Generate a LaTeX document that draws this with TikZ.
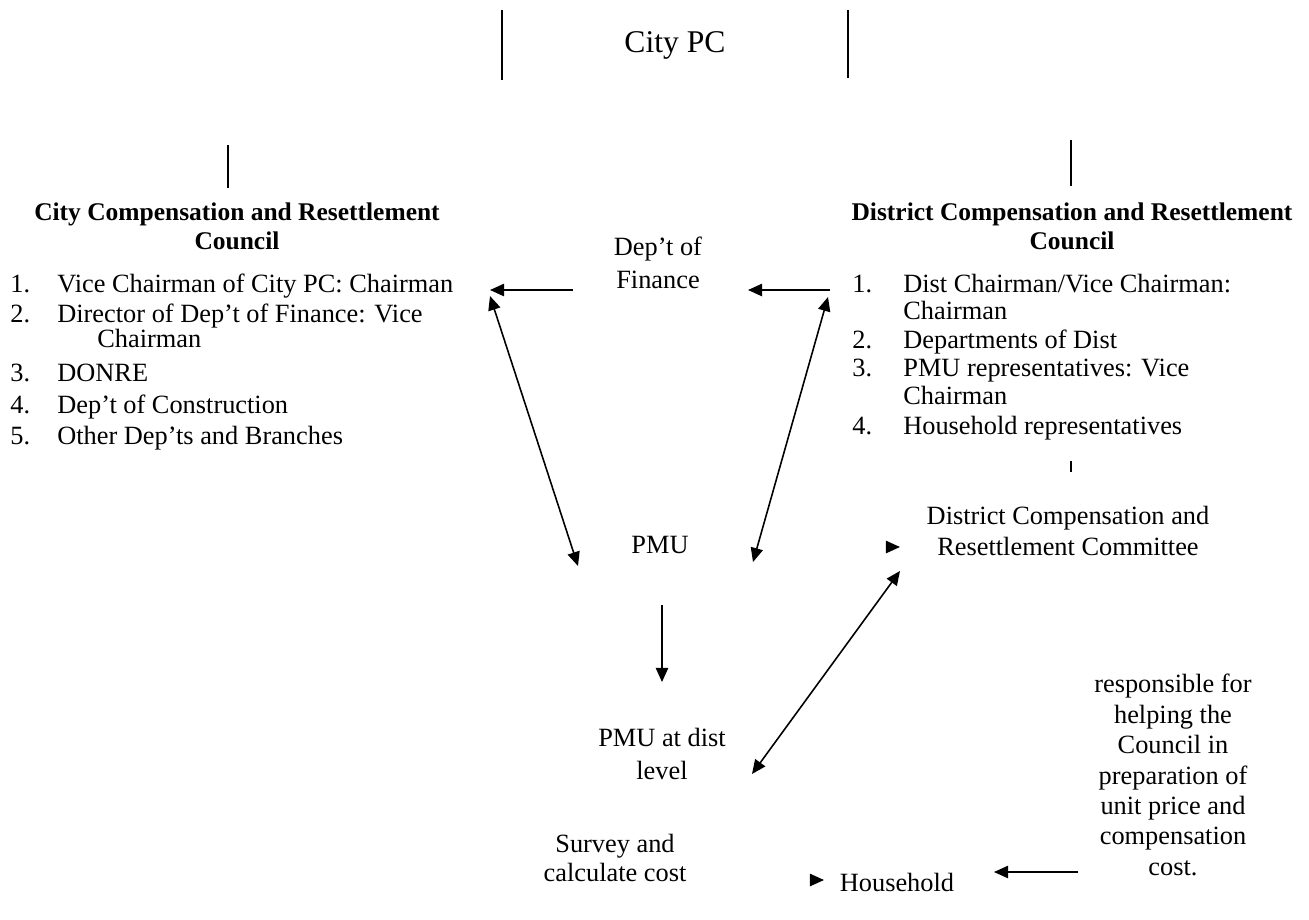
\documentclass[tikz,border=0pt]{standalone}
\usepackage{fontspec}
\setmainfont{Liberation Serif}
\usetikzlibrary{arrows.meta}

\tikzset{
  lbl/.style={font={\fontsize{15}{18.7}\selectfont}, inner sep=0pt, align=center},
  ttl/.style={font={\fontsize{14.5}{16.5}\selectfont\bfseries}, inner sep=0pt, align=center},
  itm/.style={font={\fontsize{15}{18}\selectfont}, inner sep=0pt, anchor=base west},
  bar/.style={line width=0.9pt},
  arr/.style={line width=0.9pt, -{Triangle[length=8pt,width=7pt]}},
  darr/.style={line width=0.9pt, {Triangle[length=8pt,width=7pt]}-{Triangle[length=8pt,width=7pt]}},
}

\begin{document}
\begin{tikzpicture}[x=0.02cm, y=-0.02cm]
    \useasboundingbox (0,0) rectangle (1309,920);

        % City PC with its two bars
        \node[lbl, font={\fontsize{18}{20}\selectfont}] (citypc) at (675,45) {City PC};
        \draw[bar] (502,10) -- (502,80);
        \draw[bar] (848,10) -- (848,78);

        % Bars above the councils
        \draw[bar] (228,145) -- (228,188);
        \draw[bar] (1071,140) -- (1071,186);

        % City council
        \node[ttl] (citytitle) at (237,226) {City Compensation and Resettlement\\Council};
        \node[itm] (c1n) at (10,292) {1.};
        \node[itm] (c1) at (57,292) {Vice Chairman of City PC: Chairman};
        \node[itm] (c2n) at (10,322) {2.};
        \node[itm] (c2) at (57,322) {Director of Dep't of Finance: Vice};
        \node[itm] (c2b) at (97,347) {Chairman};
        \node[itm] (c3n) at (10,381) {3.};
        \node[itm] (c3) at (57,381) {DONRE};
        \node[itm] (c4n) at (10,413) {4.};
        \node[itm] (c4) at (57,413) {Dep't of Construction};
        \node[itm] (c5n) at (10,444) {5.};
        \node[itm] (c5) at (57,444) {Other Dep'ts and Branches};

        % District council
        \node[ttl] (disttitle) at (1072,226) {District Compensation and Resettlement\\Council};
        \node[itm] (d1n) at (852,292) {1.};
        \node[itm] (d1) at (903,292) {Dist Chairman/Vice Chairman:};
        \node[itm] (d1b) at (903,319) {Chairman};
        \node[itm] (d2n) at (852,348) {2.};
        \node[itm] (d2) at (903,348) {Departments of Dist};
        \node[itm] (d3n) at (852,376) {3.};
        \node[itm] (d3) at (903,376) {PMU representatives: Vice};
        \node[itm] (d3b) at (903,404) {Chairman};
        \node[itm] (d4n) at (852,434) {4.};
        \node[itm] (d4) at (903,434) {Household representatives};
        \draw[bar] (1071,461) -- (1071,472);

        % Middle column
        \node[lbl] (fin) at (658,263) {Dep't of\\Finance};
        \node[lbl] (pmu) at (660,545) {PMU};
        \node[lbl] (pmudist) at (662,754) {PMU at dist\\level};
        \node[lbl, font={\fontsize{15}{17}\selectfont}] (survey) at (615,858) {Survey and\\calculate cost};

        % Right column
        \node[lbl, font={\fontsize{15}{17.6}\selectfont}] (committee) at (1068,531) {District Compensation and\\Resettlement Committee};
        \node[lbl, font={\fontsize{15}{17.3}\selectfont}] (resp) at (1173,775) {responsible for\\helping the\\Council in\\preparation of\\unit price and\\compensation\\cost.};
        \node[lbl] (household) at (897,882) {Household};

        % Arrow end points
        \coordinate (finL) at (573,290);
        \coordinate (cityR) at (490,290);
        \coordinate (distL) at (830,290);
        \coordinate (finR) at (748,290);
        \coordinate (cityD) at (490,296);
        \coordinate (pmuL) at (578,566);
        \coordinate (pmuR) at (753,562);
        \coordinate (distD) at (828,297);
        \coordinate (pmuB) at (662,605);
        \coordinate (pmudistT) at (662,682);
        \coordinate (commL) at (900,571);
        \coordinate (pmudistR) at (752,774);
        \coordinate (commA) at (886,547);
        \coordinate (commB) at (900,547);
        \coordinate (hhA) at (810,880);
        \coordinate (hhB) at (824,880);
        \coordinate (respB) at (1078,872);
        \coordinate (hhR) at (994,872);

        % Connectors
        \draw[arr] (finL) -- (cityR);
        \draw[arr] (distL) -- (finR);
        \draw[darr] (cityD) -- (pmuL);
        \draw[darr] (pmuR) -- (distD);
        \draw[arr] (pmuB) -- (pmudistT);
        \draw[darr] (commL) -- (pmudistR);
        \draw[arr] (commA) -- (commB);
        \draw[arr] (hhA) -- (hhB);
        \draw[arr] (respB) -- (hhR);

    \end{tikzpicture}
\end{document}
